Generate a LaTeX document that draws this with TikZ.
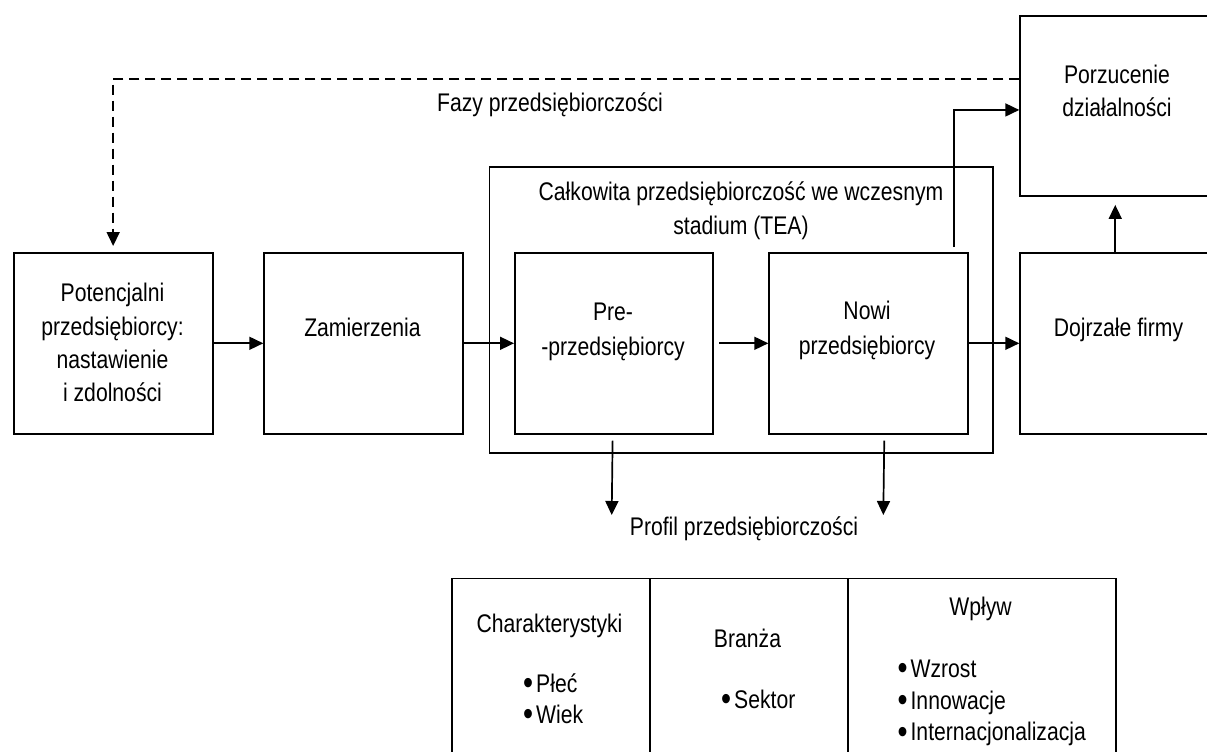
\documentclass[tikz,border=0pt]{standalone}
\usepackage{fontspec}
\setmainfont{Liberation Sans}[FakeStretch=0.83]
\usetikzlibrary{arrows.meta}
\newcommand\blt{\raisebox{-0.1em}{\scalebox{1.35}{•}}\hspace{3pt}}
\begin{document}
\begin{tikzpicture}[x=1pt,y=-1pt,
  box/.style={draw, line width=1.9pt, inner sep=0pt, anchor=north west,
    minimum width=199pt, minimum height=180.7pt},
  cell/.style={draw, line width=1.9pt, inner sep=0pt, anchor=north west,
    minimum height=220pt},
  txt/.style={inner sep=0pt, anchor=base, align=center,
    font=\fontsize{25.5}{33.3}\selectfont},
  lst/.style={inner sep=0pt, anchor=base west, align=left},
  arr/.style={line width=1.7pt, -{Triangle[length=14pt,width=13pt]}},
  dsh/.style={dash pattern=on 10pt off 6pt}
]
\useasboundingbox (0,0) rectangle (1207,752);
\clip (0,0) rectangle (1207,752);

% boxes
\node[box] (pot) at (12.7,252) {};
\node[box, minimum width=198.7pt] (zam) at (263.3,252) {};
\node[box, minimum width=503.5pt, minimum height=285.7pt] (tea) at (488.5,166) {};
\node[box, minimum width=198.3pt] (pre) at (514,252) {};
\node[box] (nowi) at (768.3,252) {};
\node[box] (doj) at (1019.3,252) {};
\node[box, minimum height=180pt] (porz) at (1019.3,15) {};

% table
\node[cell, minimum width=198.3pt] (c1) at (450.7,577.5) {};
\node[cell, minimum width=198pt] (c2) at (649,577.5) {};
\node[cell, minimum width=268pt] (c3) at (847,577.5) {};

% texts (anchor = baseline of last line)
\node[txt] (potT) at (112.5,401.6) {Potencjalni\\przedsiębiorcy:\\nastawienie\\i zdolności};
\node[txt] (zamT) at (362.5,336.7) {Zamierzenia};
\node[txt, font=\fontsize{25.5}{35}\selectfont] (preT) at (613,355) {Pre-\\-przedsiębiorcy};
\node[txt, font=\fontsize{25.5}{35}\selectfont] (nowiT) at (867,354) {Nowi\\przedsiębiorcy};
\node[txt] (dojT) at (1118.5,336.7) {Dojrzałe firmy};
\node[txt, font=\fontsize{25.5}{33.4}\selectfont] (porzT) at (1117,116.7) {Porzucenie\\działalności};
\node[txt] (fazy) at (550,111.7) {Fazy przedsiębiorczości};
\node[txt, font=\fontsize{25.5}{34}\selectfont] (teaT) at (741,234) {Całkowita przedsiębiorczość we wczesnym\\stadium (TEA)};
\node[txt] (prof) at (744,535.7) {Profil przedsiębiorczości};

\node[txt] (c1T) at (549.5,632.7) {Charakterystyki};
\node[lst, font=\fontsize{25.5}{31}\selectfont] (c1L) at (523,723) {\blt Płeć\\\blt Wiek};
\node[txt] (c2T) at (747.5,647.3) {Branża};
\node[lst, font=\fontsize{25.5}{31.7}\selectfont] (c2L) at (721,708.3) {\blt Sektor};
\node[txt] (c3T) at (980.6,615) {Wpływ};
\node[lst, font=\fontsize{25.5}{31.7}\selectfont] (c3L) at (897.4,740.7) {\blt Wzrost\\\blt Innowacje\\\blt Internacjonalizacja};

% connectors
\coordinate (p1) at (611.7,515);
\coordinate (p2) at (883.3,515);
\draw[arr] (pot) -- (zam);
\draw[arr] (zam) -- (pre);
\draw[arr] ([xshift=5pt]pre.east) -- (nowi.west);
\draw[arr] (nowi) -- (doj);
\draw[arr] ([xshift=-15pt,yshift=5pt]nowi.north east) |- ([yshift=-4pt]porz.west);
\draw[arr, shorten >=8pt] ([xshift=-4.5pt]doj.north) -- ([xshift=-4.5pt]porz.south);
\draw[arr, dsh, shorten >=6pt] ([yshift=27.3pt]porz.west) -| (pot.north);
\draw[arr] ([xshift=-1.5pt,yshift=-6pt]pre.south) -- (p1);
\draw[arr] ([xshift=15.5pt,yshift=-6pt]nowi.south) -- (p2);
\end{tikzpicture}
\end{document}
